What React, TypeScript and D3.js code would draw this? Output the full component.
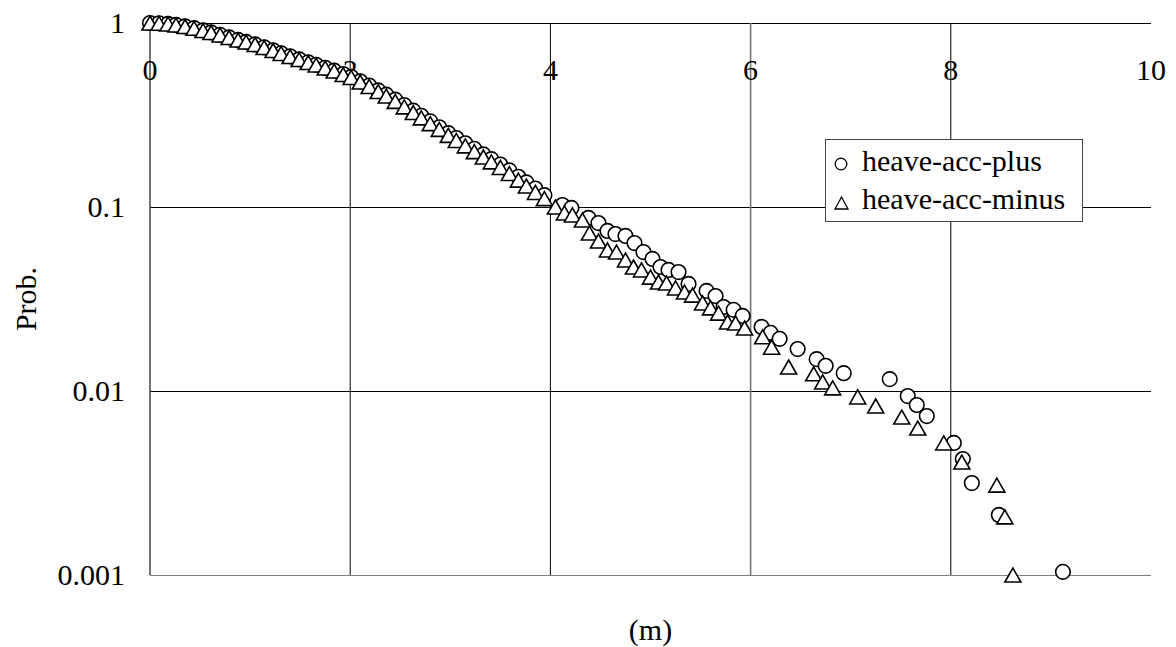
import React from "react";
import * as d3 from "d3";

// exceedance probability
const xDense = [0, 0.09, 0.18, 0.26, 0.35, 0.44, 0.53, 0.61, 0.7, 0.79, 0.88, 0.96, 1.05, 1.14, 1.23, 1.31, 1.4, 1.49, 1.58, 1.66, 1.75, 1.84, 1.93, 2.01, 2.1, 2.19, 2.28, 2.36, 2.45, 2.54, 2.63, 2.71, 2.8, 2.89, 2.98, 3.06, 3.15, 3.24, 3.33, 3.41, 3.5, 3.59, 3.68, 3.76, 3.85, 3.94];

const plusDenseP = [1.0, 0.996, 0.989, 0.976, 0.958, 0.937, 0.911, 0.889, 0.862, 0.835, 0.809, 0.789, 0.765, 0.738, 0.711, 0.685, 0.659, 0.635, 0.612, 0.593, 0.571, 0.551, 0.528, 0.509, 0.482, 0.457, 0.43, 0.408, 0.383, 0.358, 0.334, 0.313, 0.292, 0.271, 0.252, 0.237, 0.222, 0.207, 0.193, 0.182, 0.17, 0.158, 0.146, 0.136, 0.126, 0.116];
const plusTailX = [4.12, 4.21, 4.38, 4.48, 4.57, 4.65, 4.75, 4.84, 4.93, 5.02, 5.1, 5.18, 5.28, 5.38, 5.56, 5.65, 5.73, 5.83, 5.92, 6.11, 6.2, 6.29, 6.47, 6.66, 6.75, 6.93, 7.39, 7.57, 7.66, 7.76, 8.03, 8.12, 8.21, 8.48, 9.12];
const plusTailP = [0.1025, 0.0988, 0.0872, 0.0818, 0.0741, 0.0713, 0.0696, 0.0637, 0.0569, 0.0522, 0.0472, 0.0455, 0.0443, 0.0382, 0.035, 0.0328, 0.0286, 0.0276, 0.0256, 0.0223, 0.0207, 0.0192, 0.0169, 0.0149, 0.0137, 0.0125, 0.0116, 0.00939, 0.00839, 0.00731, 0.00522, 0.00427, 0.00316, 0.00212, 0.00104];

const minusDenseP = [1.0, 0.996, 0.988, 0.975, 0.957, 0.936, 0.91, 0.888, 0.861, 0.834, 0.808, 0.788, 0.764, 0.736, 0.709, 0.683, 0.657, 0.633, 0.61, 0.591, 0.569, 0.548, 0.525, 0.506, 0.478, 0.452, 0.424, 0.401, 0.375, 0.35, 0.326, 0.305, 0.284, 0.264, 0.245, 0.23, 0.215, 0.2, 0.187, 0.176, 0.164, 0.152, 0.14, 0.13, 0.12, 0.111];
const minusTailX = [4.05, 4.14, 4.22, 4.32, 4.39, 4.48, 4.57, 4.66, 4.75, 4.83, 4.91, 5.0, 5.08, 5.16, 5.25, 5.34, 5.42, 5.52, 5.6, 5.68, 5.77, 5.85, 5.94, 6.12, 6.21, 6.38, 6.63, 6.72, 6.82, 7.07, 7.25, 7.51, 7.67, 7.93, 8.11, 8.46, 8.54, 8.62];
const minusTailP = [0.1, 0.0928, 0.0905, 0.085, 0.0722, 0.0653, 0.0584, 0.0569, 0.0515, 0.0472, 0.0455, 0.0416, 0.0391, 0.0386, 0.0363, 0.0345, 0.0332, 0.0301, 0.0283, 0.0265, 0.0237, 0.0234, 0.022, 0.0197, 0.0173, 0.0135, 0.0124, 0.0112, 0.0104, 0.00928, 0.00829, 0.00722, 0.00629, 0.00522, 0.00411, 0.00308, 0.00207, 0.001];

const xTicks = [0, 2, 4, 6, 8, 10];
const yTicks = [1, 0.1, 0.01, 0.001];
const yTickLabels = ["1", "0.1", "0.01", "0.001"];

const font = "'Liberation Serif', 'Times New Roman', serif";

const tri = (w: number, h: number) => `M0,${-h / 2}L${w / 2},${h / 2}L${-w / 2},${h / 2}Z`;

export default function App() {
  const width = 1176;
  const height = 647;
  const x = d3.scaleLinear().domain([0, 10]).range([150, 1151]);
  const y = d3.scaleLog().domain([0.001, 1]).range([575, 23]);

  const plus = xDense.map((v, i) => [v, plusDenseP[i]]).concat(plusTailX.map((v, i) => [v, plusTailP[i]]));
  const minus = xDense.map((v, i) => [v, minusDenseP[i]]).concat(minusTailX.map((v, i) => [v, minusTailP[i]]));

  return (
    <svg width={width} height={height} style={{ position: "absolute", left: 0, top: 0, background: "#fff" }} fontFamily={font}>
      {/* grid */}
      {yTicks.map((t) => (
        <line key={"h" + t} x1={x(0)} x2={x(10)} y1={Math.round(y(t)) + 0.5} y2={Math.round(y(t)) + 0.5}
          stroke={t === 0.001 ? "#808080" : "#000"} strokeWidth={1} />
      ))}
      {xTicks.slice(1, 5).map((t) => (
        <line key={"v" + t} x1={x(t)} x2={x(t)} y1={y(1)} y2={y(0.001)}
          stroke={t === 6 ? "#777" : "#000"} strokeWidth={t === 6 ? 1.6 : 1} />
      ))}
      <line x1={x(0)} x2={x(0)} y1={y(1)} y2={y(0.001)} stroke="#444" strokeWidth={1.5} />

      {/* tick labels */}
      {xTicks.map((t) => (
        <text key={"xl" + t} x={x(t)} y={80} textAnchor="middle" fontSize={30}>{t}</text>
      ))}
      {yTicks.map((t, i) => (
        <text key={"yl" + t} x={125} y={y(t) + 10} textAnchor="end" fontSize={30}>{yTickLabels[i]}</text>
      ))}

      {/* axis titles */}
      <text transform={`translate(36,${(y(1) + y(0.001)) / 2}) rotate(-90)`} textAnchor="middle" fontSize={30}>Prob.</text>
      <text x={(x(0) + x(10)) / 2} y={640} textAnchor="middle" fontSize={30}>(m)</text>

      {/* markers */}
      {plus.map((d, i) => (
        <circle key={"p" + i} cx={x(d[0])} cy={y(d[1])} r={7.3} fill="#fff" stroke="#000" strokeWidth={1.6} />
      ))}
      {minus.map((d, i) => (
        <path key={"m" + i} d={tri(16, 14)} transform={`translate(${x(d[0])},${y(d[1])})`} fill="#fff" stroke="#000" strokeWidth={1.6} />
      ))}

      {/* legend */}
      <rect x={825.5} y={139.5} width={257} height={82} fill="#fff" stroke="#444" strokeWidth={1} />
      <circle cx={841} cy={164} r={5.8} fill="#fff" stroke="#000" strokeWidth={1.3} />
      <text x={862} y={171} fontSize={30}>heave-acc-plus</text>
      <path d={tri(13, 12)} transform="translate(841.5,203)" fill="#fff" stroke="#000" strokeWidth={1.3} />
      <text x={862} y={209} fontSize={30}>heave-acc-minus</text>
    </svg>
  );
}
